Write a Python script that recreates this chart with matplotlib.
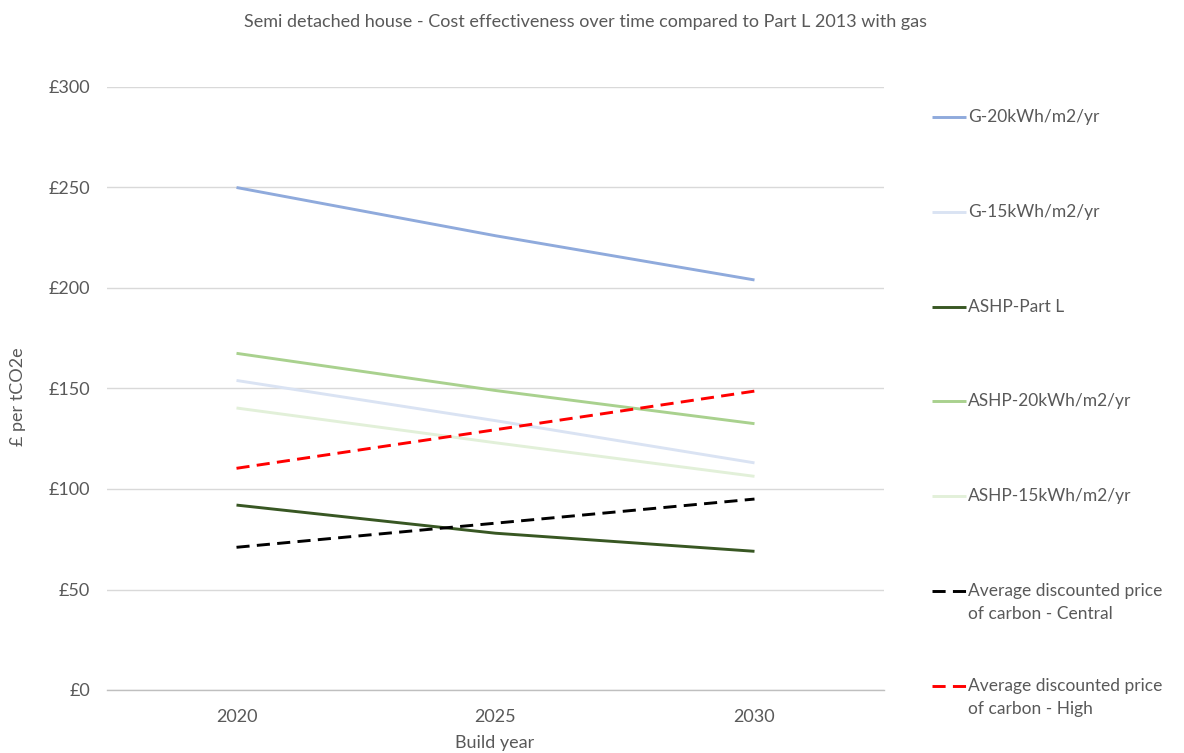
import matplotlib
matplotlib.use("Agg")
import matplotlib.pyplot as plt
from matplotlib.lines import Line2D

years = [2020, 2025, 2030]
series_names = [
    "G-20kWh/m2/yr",
    "G-15kWh/m2/yr",
    "ASHP-Part L",
    "ASHP-20kWh/m2/yr",
    "ASHP-15kWh/m2/yr",
    "Average discounted price\nof carbon - Central",
    "Average discounted price\nof carbon - High",
]
g20 = [250, 226, 204]
g15 = [154, 134, 113]
ashp_partl = [92, 78, 69]
ashp20 = [167.5, 149, 132.5]
ashp15 = [140.3, 123, 106.3]
carbon_central = [71, 83, 95]
carbon_high = [110.3, 129.5, 148.7]
y_ticks = [0, 50, 100, 150, 200, 250, 300]
y_labels = ["£0", "£50", "£100", "£150", "£200", "£250", "£300"]

values = [g20, g15, ashp_partl, ashp20, ashp15, carbon_central, carbon_high]
colors = ["#8FAADC", "#DAE3F3", "#385723", "#A9D18E", "#E2F0D9", "#000000", "#FF0000"]
styles = ["-", "-", "-", "-", "-", (0, (4.5, 2.5)), (0, (4.5, 2.5))]

FONT = "Lato"
TXT = "#595959"
plt.rcParams["font.family"] = [FONT, "DejaVu Sans"]

W, H = 1184, 753
fig = plt.figure(figsize=(W / 100, H / 100), dpi=100)
ax = fig.add_axes([107 / W, 1 - 690 / H, (884 - 107) / W, (690 - 87) / H])

for vals, c, ls in zip(values, colors, styles):
    ax.plot(years, vals, color=c, lw=2.1, ls=ls, solid_capstyle="butt", dash_capstyle="butt")

ax.set_xlim(2017.5, 2032.5)
ax.set_ylim(0, 300)
ax.set_yticks(y_ticks)
ax.set_yticklabels(y_labels)
ax.set_xticks(years)
ax.set_xticklabels([str(y) for y in years])
ax.tick_params(length=0, labelsize=13, colors=TXT)
ax.tick_params(axis="y", pad=12)
ax.tick_params(axis="x", pad=14)
ax.grid(axis="y", color="#D9D9D9", lw=1)
ax.set_axisbelow(True)
for s in ["top", "right", "left"]:
    ax.spines[s].set_visible(False)
ax.spines["bottom"].set_color("#BFBFBF")
ax.spines["bottom"].set_linewidth(1)

fig.text(586 / W, 1 - 22 / H, "Semi detached house - Cost effectiveness over time compared to Part L 2013 with gas",
         ha="center", va="center", fontsize=13, color=TXT)
fig.text(495 / W, 1 - 743 / H, "Build year", ha="center", va="center", fontsize=13, color=TXT)
fig.text(18 / W, 1 - 397 / H, "£ per tCO2e", ha="center", va="center", rotation=90, fontsize=13, color=TXT)

# legend
leg_y = [117, 212, 307, 401, 496, 591, 686]
for name, c, ls, yy in zip(series_names, colors, styles, leg_y):
    fy = 1 - yy / H
    fig.add_artist(Line2D([932 / W, 966 / W], [fy, fy], color=c, lw=2.1, ls=ls,
                          transform=fig.transFigure, solid_capstyle="butt", dash_capstyle="butt"))
    lines = name.split("\n")
    for k, txt in enumerate(lines):
        fig.text(968 / W, 1 - (yy + 23 * k) / H, txt, ha="left", va="center", fontsize=12.5, color=TXT)

fig.savefig("out.png", dpi=100)
